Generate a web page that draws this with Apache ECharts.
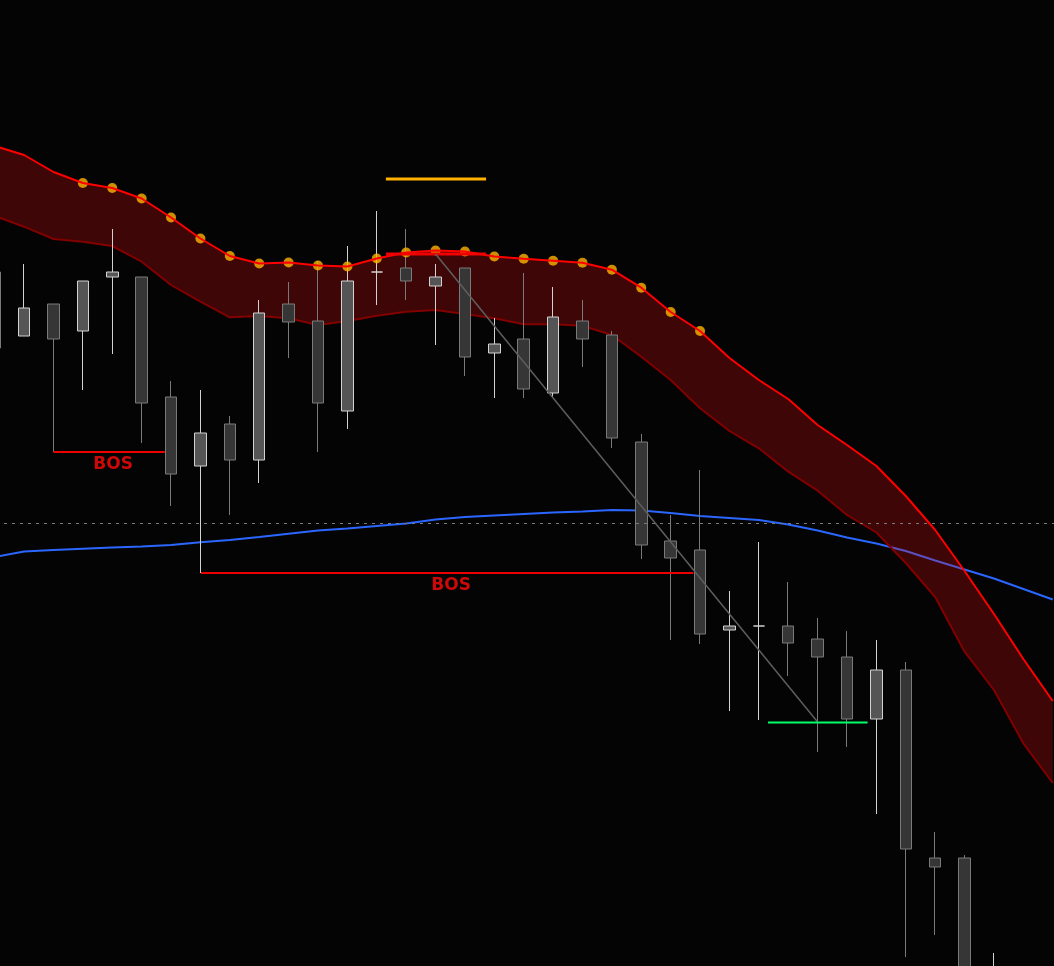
<!DOCTYPE html>
<html>
<head>
<meta charset="utf-8">
<script src="https://cdn.jsdelivr.net/npm/echarts@6/dist/echarts.min.js"></script>
<style>
html,body{margin:0;padding:0;background:#040404;}
#chart{width:1054px;height:966px;}
</style>
</head>
<body>
<div id="chart"></div>
<script>
// ---- data (price units) ----
const categories = ['B01','B02','B03','B04','B05','B06','B07','B08','B09','B10','B11','B12','B13','B14','B15','B16','B17','B18','B19','B20','B21','B22','B23','B24','B25','B26','B27','B28','B29','B30','B31','B32','B33','B34','B35','B36','B37'];

const opens  = [69.4,63.0,66.2,63.5,68.9,68.9,56.9,50.0,54.2,50.6,66.2,64.5,55.5,69.4,69.8,68.0,69.8,61.3,62.7,57.3,64.5,63.1,52.4,42.5,41.6,33.6,34.0,34.0,32.7,30.9,24.7,29.6,10.8,10.8,-9.0];
const closes = [61.8,65.8,62.7,68.5,69.4,56.3,49.2,53.3,50.6,65.3,64.4,56.3,68.5,69.4,68.5,68.9,60.9,62.2,57.7,64.9,62.7,52.8,42.1,40.8,33.2,34.0,34.0,32.3,30.9,24.7,29.6,11.7,9.9,-6.0,-2.0];
const lows   = [61.8,63.0,51.4,57.6,61.2,52.3,46.0,39.3,45.1,48.3,60.8,51.4,53.7,66.1,66.6,62.1,59.0,56.8,56.8,56.8,59.9,51.8,40.7,32.6,32.2,25.5,24.6,29.0,21.4,21.9,15.2,0.9,3.1,-8.0,-12.0];
const highs  = [69.4,70.2,66.2,68.5,73.7,68.9,58.5,57.6,55.0,66.6,68.4,70.5,72.0,75.5,73.7,70.2,69.8,64.8,69.3,67.9,66.6,63.5,53.2,45.1,49.6,37.5,42.4,38.4,34.8,33.5,32.6,30.4,13.4,11.1,1.3];

const upperBand = [82.0,81.1,79.4,78.3,77.8,76.75,74.85,72.75,71.0,70.25,70.35,70.05,69.95,70.75,71.35,71.55,71.45,70.95,70.73,70.53,70.33,69.63,67.83,65.4,63.5,60.8,58.6,56.7,54.1,52.1,50.0,47.0,43.6,39.5,35.2,30.7,26.5];
const lowerBand = [75.0,73.93,72.7,72.43,72.0,70.43,68.1,66.43,64.87,65.0,64.77,64.1,64.5,65.03,65.43,65.6,65.2,64.77,64.17,64.17,64.03,63.1,60.93,58.6,55.77,53.5,51.77,49.43,47.53,45.1,43.35,40.3,36.9,31.43,27.6,22.27,18.3];
const blueMA    = [40.9,41.45,41.6,41.73,41.85,41.95,42.1,42.37,42.6,42.9,43.23,43.55,43.75,44.0,44.25,44.65,44.9,45.05,45.2,45.35,45.45,45.6,45.55,45.3,45.0,44.8,44.6,44.15,43.55,42.85,42.25,41.5,40.55,39.65,38.75,37.7,36.65];

const dotIndices = [3,4,5,6,7,8,9,10,11,12,13,14,15,16,17,18,19,20,21,22,23,24];
const midLevel = 44.3;

// annotations: [barIndex, price]
const bos1Line = [[2.0,51.4],[5.79,51.4]];
const bos1Label = [4.03,50.1];
const bos2Line = [[7.02,39.3],[23.77,39.3]];
const bos2Label = [15.53,38.0];
const diagonalLine = [[15.0,71.2],[28.0,24.4]];
const greenLine = [[26.31,24.35],[29.7,24.35]];
const orangeLine = [[13.31,78.7],[16.72,78.7]];
const redLevelLine = [[13.31,71.2],[16.72,71.2]];

// ---- build ----
const candleData = opens.map((o,i)=>[o, closes[i], lows[i], highs[i]]);
const bandDiff = upperBand.map((u,i)=> +(u - lowerBand[i]).toFixed(3));
const dotData = dotIndices.map(i=>[i, upperBand[i]]);

const N = categories.length;
const band = 29.39;
const gridLeft = -5.3 - band/2;
const gridWidth = band * N;

const chart = echarts.init(document.getElementById('chart'), null, {renderer:'canvas'});
chart.setOption({
  backgroundColor:'#040404',
  animation:false,
  grid:{left:gridLeft, top:0, width:gridWidth, bottom:0, outerBoundsMode:'none'},
  xAxis:[
    {type:'category', data:categories, boundaryGap:true, show:false},
    {type:'value', min:-0.5, max:N-0.5, show:false}
  ],
  yAxis:{type:'value', min:0, max:96.6, show:false, splitLine:{show:false}},
  series:[
    {
      name:'mid', type:'line', data:[], z:1, silent:true,
      markLine:{symbol:'none', silent:true, label:{show:false},
        lineStyle:{color:'#7a7a7a', type:[3,5], width:1},
        data:[{yAxis:midLevel}]}
    },
    {
      name:'MA', type:'line', data:blueMA, symbol:'none', z:1,
      lineStyle:{color:'#2b66ff', width:2}
    },
    {
      name:'bandBase', type:'line', stack:'band', data:lowerBand, symbol:'none', z:2,
      lineStyle:{opacity:0}
    },
    {
      name:'bandFill', type:'line', stack:'band', data:bandDiff, symbol:'none', z:2,
      lineStyle:{opacity:0},
      areaStyle:{color:'rgba(235,10,10,0.25)', opacity:1}
    },
    {
      name:'lower', type:'line', data:lowerBand, symbol:'none', z:3,
      lineStyle:{color:'#820000', width:2}
    },
    {
      name:'price', type:'candlestick', data:candleData, z:4, barWidth:12,
      itemStyle:{color:'#555555', color0:'#363636', borderColor:'#d2d2d2', borderColor0:'#7a7a7a', borderColorDoji:'#d2d2d2', borderWidth:1}
    },
    {
      name:'dots', type:'scatter', data:dotData, z:5, symbol:'circle', symbolSize:10,
      itemStyle:{color:'#ffb300'}
    },
    {
      name:'upper', type:'line', data:upperBand, symbol:'none', z:6,
      lineStyle:{color:'#ff0000', width:2}
    },
    {
      name:'diag', type:'line', xAxisIndex:1, data:diagonalLine, symbol:'none', z:7,
      lineStyle:{color:'#5e5e5e', width:1.5}
    },
    {
      name:'green', type:'line', xAxisIndex:1, data:greenLine, symbol:'none', z:7,
      lineStyle:{color:'#00ff66', width:2}
    },
    {
      name:'orange', type:'line', xAxisIndex:1, data:orangeLine, symbol:'none', z:7,
      lineStyle:{color:'#ffb000', width:3}
    },
    {
      name:'redLevel', type:'line', xAxisIndex:1, data:redLevelLine, symbol:'none', z:6,
      lineStyle:{color:'#f00000', width:3}
    },
    {
      name:'bos1', type:'line', xAxisIndex:1, data:bos1Line, symbol:'none', z:7,
      lineStyle:{color:'#ee0000', width:2}
    },
    {
      name:'bos2', type:'line', xAxisIndex:1, data:bos2Line, symbol:'none', z:7,
      lineStyle:{color:'#ee0000', width:2}
    },
    {
      name:'bosText', type:'scatter', xAxisIndex:1, data:[bos1Label, bos2Label], z:8,
      symbolSize:1, itemStyle:{color:'rgba(0,0,0,0)'},
      label:{show:true, position:'inside', formatter:'BOS', color:'#ff0a0a',
        fontFamily:'DejaVu Sans', fontWeight:'bold', fontSize:17}
    }
  ]
});
</script>
</body>
</html>
